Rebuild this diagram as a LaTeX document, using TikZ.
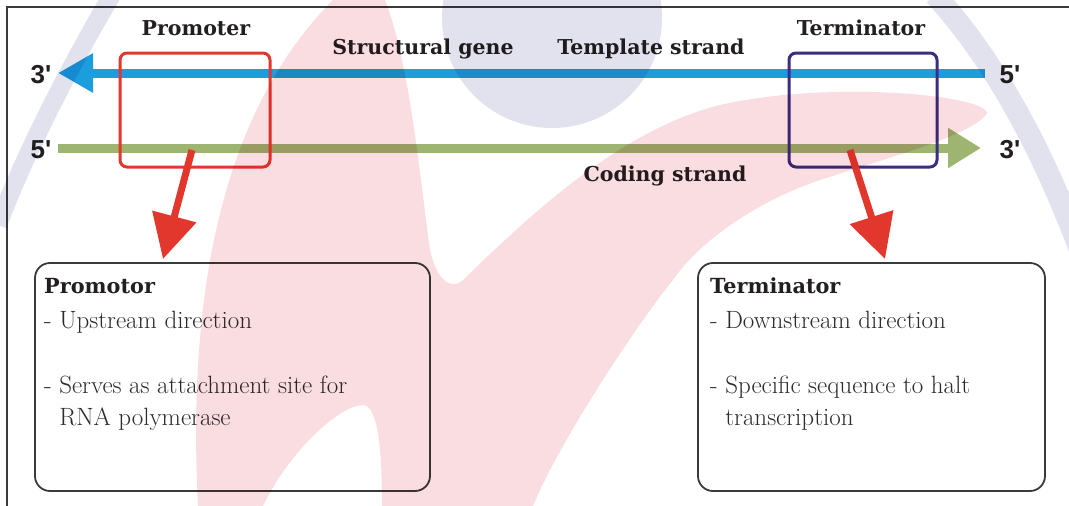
\documentclass[tikz,border=0pt]{standalone}
\usepackage{fontspec}
\newfontfamily\labelfont{DejaVu Serif}
\newfontfamily\endfont{Liberation Sans}
\usetikzlibrary{arrows.meta}

\definecolor{ink}{HTML}{231F20}
\definecolor{bodyink}{HTML}{2E2B2C}
\definecolor{framegray}{HTML}{3A3A3A}
\definecolor{templateblue}{HTML}{1B9DDE}
\definecolor{codinggreen}{HTML}{9DB570}
\definecolor{pointred}{HTML}{E1372D}
\definecolor{termpurple}{HTML}{3D2C83}
\definecolor{wmpink}{HTML}{F9DDE0}
\definecolor{wmblue}{HTML}{E2E2EF}

\tikzset{
  endlabel/.style={font=\endfont\bfseries\fontsize{26}{26}\selectfont, text=ink, inner sep=0pt},
  title/.style={font=\labelfont\bfseries\fontsize{20.5}{20.5}\selectfont, text=ink, inner sep=0pt},
  heading/.style={font=\labelfont\bfseries\fontsize{20.8}{20.8}\selectfont, text=ink, inner sep=0pt, anchor=base west},
  bodytext/.style={font=\fontsize{25}{25}\selectfont, text=bodyink, inner sep=0pt, anchor=base west},
  strand/.style={line width=9pt},
  regionbox/.style={draw, line width=3pt, rounded corners=7pt, minimum height=114pt, inner sep=0pt},
  infobox/.style={draw=framegray, line width=1.8pt, rounded corners=15pt, minimum width=#1, minimum height=228pt, inner sep=0pt},
  pointer/.style={draw=pointred, line width=7pt, -{Triangle[length=44pt,width=44pt]}},
}

\begin{document}
\begin{tikzpicture}[x=1pt,y=-1pt]
\useasboundingbox (0,0) rectangle (1069,506);
\fill[white] (0,0) rectangle (1069,506);

% frame (top and left edges)
\draw[framegray, line width=2.4pt] (7,506) -- (7,7) -- (1069,7);

% strand end points
\coordinate (t5) at (985,73);
\coordinate (t3) at (58,73);
\coordinate (c5) at (58,148);
\coordinate (c3) at (981,148);

% template strand (3' <- 5') and coding strand (5' -> 3')
\draw[strand, templateblue, -{Triangle[length=35pt,width=37pt]}] (t5) -- (t3);
\draw[strand, codinggreen, -{Triangle[length=33pt,width=38pt]}] (c5) -- (c3);

% strand end labels
\node[endlabel] (l3a) at (41,75) {3'};
\node[endlabel] (l5a) at (41,150) {5'};
\node[endlabel] (r5a) at (1010,75) {5'};
\node[endlabel] (r3a) at (1010,150) {3'};

% region boxes
\node[regionbox, draw=pointred, minimum width=150pt] (prombox) at (195,110) {};
\node[regionbox, draw=termpurple, minimum width=148pt] (termbox) at (863,110) {};

% titles
\node[title] (promtitle) at (196,28) {Promoter};
\node[title] (termtitle) at (861,28) {Terminator};
\node[title] (gene) at (423,49) {Structural gene};
\node[title] (template) at (651,49) {Template strand};
\node[title] (coding) at (665,176) {Coding strand};

% description boxes
\node[infobox=395pt] (prominfo) at (232.5,377) {};
\node[infobox=347pt] (terminfo) at (871.5,377) {};

% pointers from region boxes to descriptions
\coordinate (pa) at (192,150);
\coordinate (ptip) at (163,259);
\coordinate (ta) at (850,150);
\coordinate (ttip) at (885,259);
\draw[pointer] (pa) -- (ptip);
\draw[pointer] (ta) -- (ttip);

% promoter description
\node[heading] (ph) at (44,293) {Promotor};
\node[bodytext] (p1) at (44,328) {- Upstream direction};
\node[bodytext] (p2) at (44,393) {- Serves as attachment site for};
\node[bodytext] (p3) at (44,425) {\phantom{- }RNA polymerase};

% terminator description
\node[heading] (th) at (710,293) {Terminator};
\node[bodytext] (t1) at (710,328) {- Downstream direction};
\node[bodytext] (t2) at (710,393) {- Specific sequence to halt};
\node[bodytext] (t3l) at (710,425) {\phantom{- }transcription};

% faint background logo, multiplied over the drawing
\begin{scope}[blend mode=multiply]
  \fill[wmpink] (198,506) .. controls (185,250) and (240,90) .. (338,-5)
    -- (383,-5) .. controls (410,60) and (420,180) .. (430,250)
    .. controls (437,280) and (450,290) .. (462,281)
    .. controls (530,215) and (620,130) .. (720,105)
    .. controls (830,80) and (985,95) .. (987,113)
    .. controls (975,135) and (880,160) .. (820,180)
    .. controls (760,200) and (700,240) .. (673,280)
    .. controls (640,320) and (560,440) .. (533,506)
    -- (382,506) .. controls (382,450) and (378,405) .. (363,405)
    .. controls (340,405) and (290,450) .. (263,506) -- cycle;
  \fill[wmblue] (552,18) circle[radius=110pt];
  \draw[wmblue, line width=18pt] (112,-5) .. controls (85,40) and (30,140) .. (-2,225);
  \draw[wmblue, line width=22pt] (935,-5) .. controls (985,50) and (1035,130) .. (1080,250);
\end{scope}
\end{tikzpicture}
\end{document}
